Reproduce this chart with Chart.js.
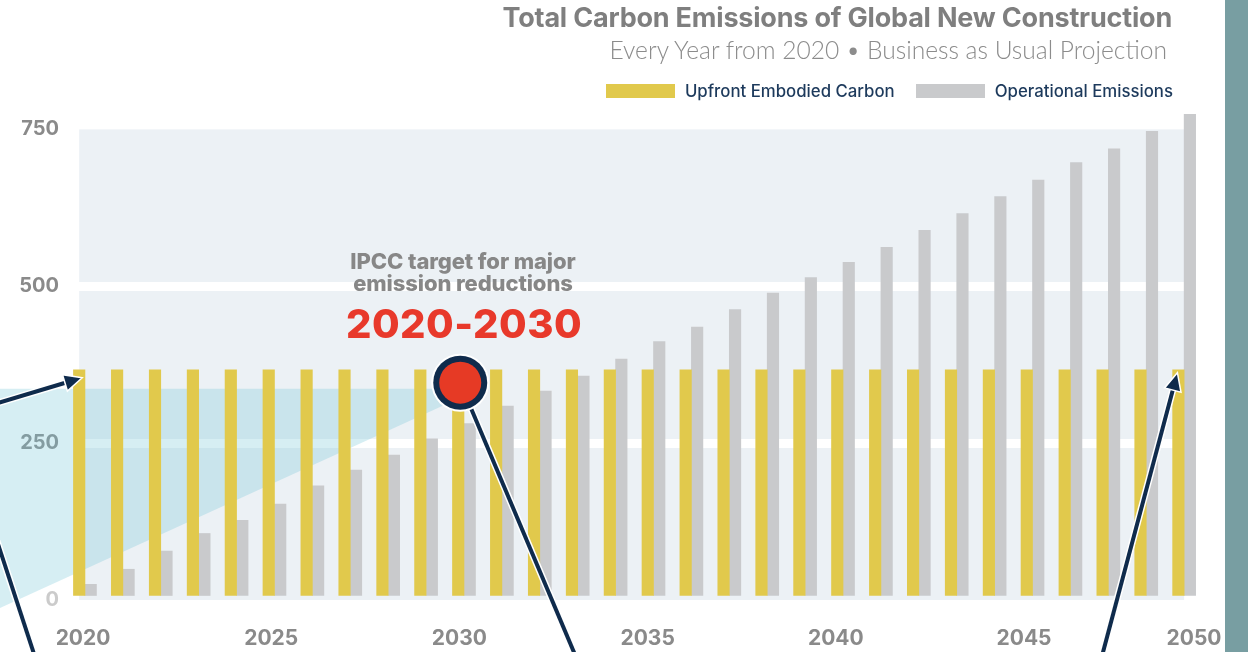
<!DOCTYPE html>
<html>
<head>
<meta charset="utf-8">
<script src="https://cdn.jsdelivr.net/npm/chart.js@4.4.1/dist/chart.umd.min.js"></script>
<style>
  html, body { margin: 0; padding: 0; background: #ffffff; }
  #wrap { position: relative; width: 1248px; height: 652px; overflow: hidden; background: #ffffff; }
  #c { position: absolute; left: 0; top: 0; }
  .txt { position: absolute; white-space: nowrap; line-height: 1; }
  #title { right: 76px; top: 1px; font: 700 27px 'Inter', 'Open Sans', sans-serif; color: #7f7f7f; letter-spacing: -0.2px; }
  #sub { right: 81px; top: 35px; font: 300 24.6px 'Lato', 'Open Sans', sans-serif; color: #8c8c8c; }
  #legend { position: absolute; right: 75px; top: 82px; height: 18px; display: flex; align-items: center;
            font: 500 16.8px 'Inter', 'Open Sans', sans-serif; color: #1d3a5c; white-space: nowrap; }
  #legend .sw { width: 69px; height: 14px; margin-right: 10px; }
  #legend .item { display: flex; align-items: center; }
  #legend .item + .item { margin-left: 21px; }
  #ipcc { left: 463px; top: 250px; transform: translateX(-50%); text-align: center;
          font: 800 22px 'Inter', 'Open Sans', sans-serif; color: #878787; line-height: 22px; letter-spacing: -0.1px; }
  #range { left: 464px; top: 299px; transform: translateX(-50%); font: 800 40px 'Inter', 'Open Sans', sans-serif;
           color: #e8392b; letter-spacing: 0.5px; }
  #strip { position: absolute; left: 1225px; top: 0; width: 23px; height: 652px; background: #789ea2; }
</style>
</head>
<body>
<div id="wrap">
  <canvas id="c" width="1248" height="652"></canvas>
  <div id="title" class="txt">Total Carbon Emissions of Global New Construction</div>
  <div id="sub" class="txt">Every Year from 2020 &bull; Business as Usual Projection</div>
  <div id="legend"></div>
  <div id="ipcc" class="txt">IPCC target for major<br>emission reductions</div>
  <div id="range" class="txt">2020-2030</div>
  <div id="strip"></div>
</div>
<script>
// ---------------- data ----------------
const years = ['2020','2021','2022','2023','2024','2025','2026','2027','2028','2029',
               '2030','2031','2032','2033','2034','2035','2036','2037','2038','2039',
               '2040','2041','2042','2043','2044','2045','2046','2047','2048','2049'];
const embodied = [367,367,367,367,367,367,367,367,367,367,
                  367,367,367,367,367,367,367,367,367,367,
                  367,367,367,367,367,367,367,367,367,367];
const operational = [25,49,78,106,127,153,182,207,231,257,
                     281,309,333,357,384,412,435,463,489,514,
                     538,562,589,616,643,669,697,719,747,774];
const yTickValues = [0, 250, 500, 750];
const xTickLabels = ['2020','2025','2030','2035','2040','2045','2050'];
const seriesNames = ['Upfront Embodied Carbon', 'Operational Emissions'];
const seriesColors = ['#e1c94c', '#c9cacc'];

// ---------------- styling constants ----------------
const BAR_W = 11.5;
const NAVY = '#0f2b4c';
const BG = '#ecf1f5';

// legend (HTML, built from series arrays)
const legendEl = document.getElementById('legend');
seriesNames.forEach((n, i) => {
  const it = document.createElement('div'); it.className = 'item';
  const sw = document.createElement('div'); sw.className = 'sw'; sw.style.background = seriesColors[i];
  const tx = document.createElement('span'); tx.textContent = n;
  it.appendChild(sw); it.appendChild(tx); legendEl.appendChild(it);
});

function circleCenter(chart) {
  const bars = chart.getDatasetMeta(0).data;
  const b = bars[years.indexOf('2030')];
  return { x: b.x + 2, y: b.y + 13 };
}

const bandPlugin = {
  id: 'bands',
  beforeDraw(chart) {
    const { ctx, scales: { x, y } } = chart;
    const left = x.getPixelForValue(Number(years[0])) - BAR_W / 2;
    const right = x.getPixelForValue(Number(years[years.length - 1]));
    const top = y.getPixelForValue(yTickValues[yTickValues.length - 1]);
    const bottom = y.getPixelForValue(0);
    ctx.save();
    ctx.fillStyle = BG;
    ctx.fillRect(left, top, right - left, bottom - top);
    ctx.restore();
  },
  beforeDatasetsDraw(chart) {
    const { ctx, scales: { y } } = chart;
    const c = circleCenter(chart);
    const base = y.getPixelForValue(0);
    ctx.save();
    ctx.fillStyle = 'rgba(118, 198, 214, 0.30)';
    ctx.beginPath();
    ctx.moveTo(0, c.y + 6);
    ctx.lineTo(c.x, c.y + 6);
    ctx.lineTo(c.x, c.y + 15);
    ctx.lineTo(0, base + 8);
    ctx.closePath();
    ctx.fill();
    ctx.restore();
  }
};

function haloLine(ctx, x1, y1, x2, y2) {
  ctx.beginPath(); ctx.moveTo(x1, y1); ctx.lineTo(x2, y2);
  ctx.strokeStyle = '#ffffff'; ctx.lineWidth = 7; ctx.stroke();
  ctx.beginPath(); ctx.moveTo(x1, y1); ctx.lineTo(x2, y2);
  ctx.strokeStyle = NAVY; ctx.lineWidth = 4; ctx.stroke();
}
function arrow(ctx, x1, y1, x2, y2) {
  const ang = Math.atan2(y2 - y1, x2 - x1);
  const len = 18, half = 8.5;
  const dx = Math.cos(ang), dy = Math.sin(ang);
  const bx = x2 - dx * len, by = y2 - dy * len;
  haloLine(ctx, x1, y1, bx + dx * 3, by + dy * 3);
  ctx.beginPath();
  ctx.moveTo(x2, y2);
  ctx.lineTo(bx - dy * half, by + dx * half);
  ctx.lineTo(bx + dy * half, by - dx * half);
  ctx.closePath();
  ctx.fillStyle = NAVY; ctx.fill();
  ctx.strokeStyle = '#ffffff'; ctx.lineWidth = 1.5; ctx.stroke();
}

const annotPlugin = {
  id: 'annotations',
  afterDatasetsDraw(chart) {
    const { ctx } = chart;
    const bars = chart.getDatasetMeta(0).data;
    const first = bars[0], last = bars[bars.length - 1];
    const c = circleCenter(chart);
    ctx.save();
    ctx.lineCap = 'butt';
    arrow(ctx, first.x - 90, first.y + 36, first.x + 3, first.y + 8);
    haloLine(ctx, -3, 541, 36, 660);
    haloLine(ctx, c.x, c.y, c.x + 117, 660);
    arrow(ctx, last.x - 78, 662, last.x - 1, last.y + 3);
    ctx.beginPath(); ctx.arc(c.x, c.y, 29, 0, Math.PI * 2); ctx.fillStyle = '#ffffff'; ctx.fill();
    ctx.beginPath(); ctx.arc(c.x, c.y, 27, 0, Math.PI * 2); ctx.fillStyle = NAVY; ctx.fill();
    ctx.beginPath(); ctx.arc(c.x, c.y, 21, 0, Math.PI * 2); ctx.fillStyle = '#e63a25'; ctx.fill();
    ctx.restore();
  }
};

const tickFont = { family: "'Inter', 'Open Sans', sans-serif", size: 20, weight: '700' };

new Chart(document.getElementById('c').getContext('2d'), {
  type: 'bar',
  data: {
    labels: years,
    datasets: [
      { label: seriesNames[0], data: embodied, backgroundColor: seriesColors[0], barThickness: BAR_W, clip: false, xAxisID: 'x', yAxisID: 'y' },
      { label: seriesNames[1], data: operational, backgroundColor: seriesColors[1], barThickness: BAR_W, clip: false, xAxisID: 'x', yAxisID: 'y' }
    ]
  },
  options: {
    responsive: false,
    animation: false,
    layout: { padding: { left: 0, right: 54, top: 98, bottom: 0 } },
    plugins: { legend: { display: false }, title: { display: false }, tooltip: { enabled: false } },
    scales: {
      x: { type: 'linear', display: false, min: 2019.5, max: 2049.26, offset: false },
      xl: {
        type: 'linear', position: 'bottom', min: 2019.548, max: 2049.516, offset: false,
        grid: { display: false, drawTicks: false, offset: false }, border: { display: false },
        afterBuildTicks: (axis) => { axis.ticks = xTickLabels.map(v => ({ value: Math.min(Number(v), axis.max) })); },
        afterFit: (s) => { s.height = 52; },
        ticks: { callback: (v, i) => xTickLabels[i], font: { ...tickFont, size: 21 }, color: '#8a8a8a', padding: 26, maxRotation: 0, autoSkip: false }
      },
      y: {
        type: 'linear', position: 'left', min: 0, max: 800, bounds: 'data',
        afterBuildTicks: (axis) => { axis.ticks = yTickValues.map(v => ({ value: v })); },
        afterFit: (s) => { s.width = 66; },
        border: { display: false },
        grid: {
          drawTicks: false, lineWidth: 9,
          color: (ctx) => (ctx.index > 0 && ctx.index < yTickValues.length - 1) ? '#ffffff' : 'rgba(255,255,255,0)'
        },
        ticks: {
          font: tickFont, padding: 7,
          color: (ctx) => ctx.tick && ctx.tick.value === 0 ? '#cbcbcb' : '#8a8a8a'
        }
      }
    }
  },
  plugins: [bandPlugin, annotPlugin]
});
</script>
</body>
</html>
